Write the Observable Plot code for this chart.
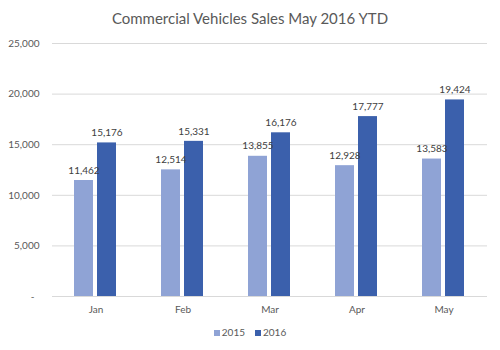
<!DOCTYPE html>
<html><head><meta charset="utf-8">
<script src="https://cdn.jsdelivr.net/npm/d3@7"></script>
<script src="https://cdn.jsdelivr.net/npm/@observablehq/plot@0.6"></script>
<style>
body{margin:0;background:#fff;font-family:Lato,"Open Sans",sans-serif;}
#wrap{width:500px;height:350px;position:relative;}
#title{height:36px;line-height:36px;text-align:center;font-size:15px;color:#595959;}
#legend{display:flex;justify-content:center;gap:10px;font-size:10px;color:#595959;height:22px;align-items:center;margin-top:0px;}
#legend span.sw{display:inline-block;width:6px;height:6px;margin-right:2px;vertical-align:middle;}
</style></head>
<body><div id="wrap"><div id="title">Commercial Vehicles Sales May 2016 YTD</div><div id="chart"></div><div id="legend"></div></div>
<script>
const months = ["Jan","Feb","Mar","Apr","May"];
const years = ["2015","2016"];
const sales2015 = [11462,12514,13855,12928,13583];
const sales2016 = [15176,15331,16176,17777,19424];
const yTicks = [0,5000,10000,15000,20000,25000];
const colors = ["#8FA3D5","#3B60AC"];

const data = [];
months.forEach((m,i)=>{
  data.push({month:m, year:"2015", value:sales2015[i]});
  data.push({month:m, year:"2016", value:sales2016[i]});
});
const fmt = d3.format(",");
const chart = Plot.plot({
  width:500, height:285,
  marginLeft:51, marginRight:13, marginTop:7, marginBottom:25,
  style:{fontFamily:"Lato, 'Open Sans', sans-serif", fontSize:"10px", color:"#595959"},
  fx:{domain:months, padding:0, label:null, axis:"bottom", tickSize:0, tickPadding:9},
  x:{domain:years, paddingInner:1/6, paddingOuter:0.9, axis:null},
  y:{domain:[0,25000], ticks:yTicks, label:null, tickSize:0, tickPadding:13,
     tickFormat:d=> d===0 ? "-\u00a0\u00a0" : fmt(d)},
  color:{domain:years, range:colors},
  marks:[
    Plot.gridY(yTicks.slice(1),{stroke:"#D9D9D9", strokeOpacity:1}),
    Plot.ruleY([0],{stroke:"#D9D9D9"}),
    Plot.barY(data,{fx:"month", x:"year", y:"value", fill:"year"}),
    Plot.text(data,{fx:"month", x:"year", y:"value", text:d=>fmt(d.value), dy:-10, fill:"#404040", fontSize:10})
  ]
});
document.getElementById("chart").appendChild(chart);
const lg = document.getElementById("legend");
years.forEach((y,i)=>{
  const s=document.createElement("span");
  s.innerHTML=`<span class="sw" style="background:${colors[i]}"></span>${y}`;
  lg.appendChild(s);
});
</script></body></html>
